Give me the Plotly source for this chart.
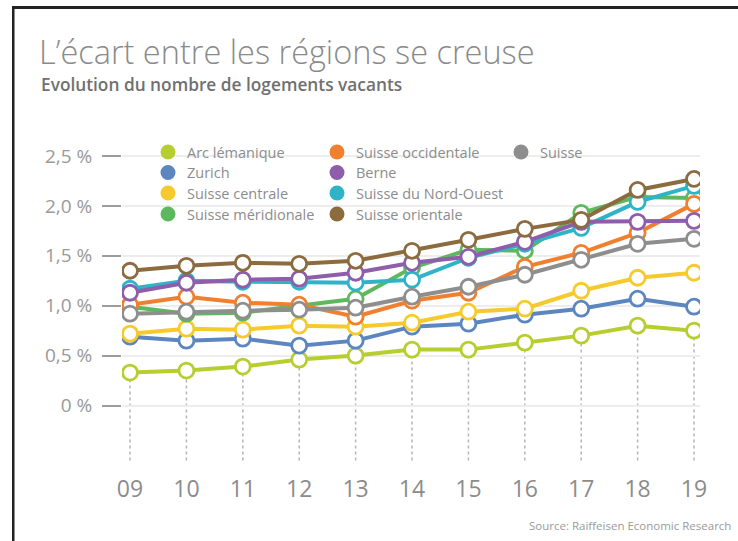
import plotly.graph_objects as go

# Taux de logements vacants (%), 2009-2019
years = ["09", "10", "11", "12", "13", "14", "15", "16", "17", "18", "19"]

arc_lemanique = [0.33, 0.35, 0.39, 0.46, 0.50, 0.56, 0.56, 0.63, 0.70, 0.80, 0.75]
zurich = [0.69, 0.65, 0.67, 0.60, 0.65, 0.79, 0.82, 0.91, 0.97, 1.07, 0.99]
suisse_centrale = [0.72, 0.77, 0.76, 0.80, 0.79, 0.83, 0.94, 0.97, 1.15, 1.28, 1.33]
suisse_meridionale = [0.99, 0.92, 0.93, 1.00, 1.07, 1.38, 1.56, 1.55, 1.93, 2.09, 2.08]
suisse_nord_ouest = [1.17, 1.25, 1.24, 1.24, 1.23, 1.26, 1.48, 1.62, 1.78, 2.04, 2.20]
suisse_occidentale = [1.01, 1.09, 1.03, 1.01, 0.89, 1.05, 1.13, 1.39, 1.53, 1.73, 2.02]
suisse = [0.92, 0.94, 0.95, 0.96, 0.98, 1.09, 1.19, 1.31, 1.46, 1.62, 1.67]
berne = [1.13, 1.23, 1.26, 1.27, 1.33, 1.43, 1.49, 1.64, 1.84, 1.84, 1.85]
suisse_orientale = [1.35, 1.40, 1.43, 1.42, 1.45, 1.55, 1.66, 1.77, 1.86, 2.16, 2.27]

y_ticks = [0, 0.5, 1.0, 1.5, 2.0, 2.5]
y_labels = ["0 %", "0,5 %", "1,0 %", "1,5 %", "2,0 %", "2,5 %"]

# (nom, valeurs, couleur) dans l'ordre de dessin
series = [
    ("Arc lémanique", arc_lemanique, "#b7ce30"),
    ("Zurich", zurich, "#5b86c0"),
    ("Suisse centrale", suisse_centrale, "#f6ca2c"),
    ("Suisse méridionale", suisse_meridionale, "#5db95d"),
    ("Suisse du Nord-Ouest", suisse_nord_ouest, "#2fb4c7"),
    ("Suisse occidentale", suisse_occidentale, "#f0802f"),
    ("Suisse", suisse, "#8e8e8e"),
    ("Berne", berne, "#8e5eab"),
    ("Suisse orientale", suisse_orientale, "#8c6b3e"),
]

legend_cols = [
    ["Arc lémanique", "Zurich", "Suisse centrale", "Suisse méridionale"],
    ["Suisse occidentale", "Berne", "Suisse du Nord-Ouest", "Suisse orientale"],
    ["Suisse"],
]

W, H = 738, 541
L, R, T, B = 122, 700, 140, 465  # plot area in pixels


def px(x):
    return (x - L) / (R - L)


def py(y):
    return (B - y) / (B - T)


FONT = "Open Sans"
GREY = "#8c8c8c"

fig = go.Figure()

# pointillés verticaux sous chaque année (x en index de catégorie)
lows = [min(s[1][i] for s in series) for i in range(len(years))]
for i, low in enumerate(lows):
    fig.add_shape(type="line", xref="x", yref="y", x0=i, x1=i, y0=-0.55, y1=low,
                  line=dict(color="#b5b5b5", width=1.5, dash="dot"), layer="below")

for name, vals, color in series:
    fig.add_trace(go.Scatter(
        x=years, y=vals, name=name, mode="lines+markers",
        line=dict(color=color, width=4),
        marker=dict(symbol="circle", size=15, color="white",
                    line=dict(color=color, width=2.8)),
        hoverinfo="skip", showlegend=False,
    ))

# fond blanc derrière la légende
fig.add_shape(type="rect", xref="paper", yref="paper",
              x0=px(150), x1=px(560), y0=py(226), y1=py(140),
              fillcolor="white", line=dict(width=0), layer="below")

colors = {n: c for n, _, c in series}
col_x = [168, 337, 521]
row_y = [152, 172.5, 193, 214]
for cx, names in zip(col_x, legend_cols):
    for ry, name in zip(row_y, names):
        fig.add_shape(type="circle", xref="paper", yref="paper",
                      xsizemode="pixel", ysizemode="pixel",
                      xanchor=px(cx), yanchor=py(ry),
                      x0=-7.5, x1=7.5, y0=-7.5, y1=7.5,
                      fillcolor=colors[name], line=dict(width=0))
        fig.add_annotation(x=px(cx + 17), y=py(ry), xref="paper", yref="paper",
                           text=name, showarrow=False, xanchor="left", yanchor="middle",
                           font=dict(family=FONT, size=14.5, color=GREY))

# cadre (haut et gauche), en rectangles pleins
fig.add_shape(type="rect", xref="paper", yref="paper", x0=px(12), x1=px(W),
              y0=py(9), y1=py(6), fillcolor="#222222", line=dict(width=0))
fig.add_shape(type="rect", xref="paper", yref="paper", x0=px(12), x1=px(14.5),
              y0=py(H), y1=py(6), fillcolor="#222222", line=dict(width=0))

fig.add_annotation(x=px(37), y=py(51), xref="paper", yref="paper",
                   text="L’écart entre les régions se creuse", showarrow=False,
                   xanchor="left", yanchor="middle",
                   font=dict(family=FONT, size=32.5, color="#8a8a8a", weight=300))
fig.add_annotation(x=px(39), y=py(85), xref="paper", yref="paper",
                   text="Evolution du nombre de logements vacants", showarrow=False,
                   xanchor="left", yanchor="middle",
                   font=dict(family=FONT, size=17.3, color="#707070", weight=600))
fig.add_annotation(x=px(733), y=py(525), xref="paper", yref="paper",
                   text="Source: Raiffeisen Economic Research", showarrow=False,
                   xanchor="right", yanchor="middle",
                   font=dict(family=FONT, size=11.5, color="#9a9a9a"))

y0 = (405.5 - B) / 99.8
y1 = (405.5 - T) / 99.8

fig.update_layout(
    width=W, height=H,
    margin=dict(l=L, r=W - R, t=T, b=H - B),
    paper_bgcolor="white", plot_bgcolor="white",
    font=dict(family=FONT, color=GREY),
    showlegend=False,
)
fig.update_xaxes(type="category", range=[-0.142, 10.106], showgrid=False,
                 showline=False, zeroline=False, ticks="",
                 tickfont=dict(family=FONT, size=23, color=GREY),
                 ticklabelstandoff=8)
fig.update_yaxes(range=[y0, y1], tickvals=y_ticks, ticktext=y_labels,
                 showgrid=True, gridcolor="#ededed", gridwidth=1.5,
                 zeroline=False, showline=False,
                 ticks="outside", ticklen=19, tickwidth=2, tickcolor="#9c9c9c",
                 tickfont=dict(family=FONT, size=19, color="#999999"),
                 ticklabelstandoff=6)

fig.write_html(
    "out.html",
    config={"displayModeBar": False},
    post_script="document.body.style.margin='0';document.body.style.overflow='hidden';",
)
